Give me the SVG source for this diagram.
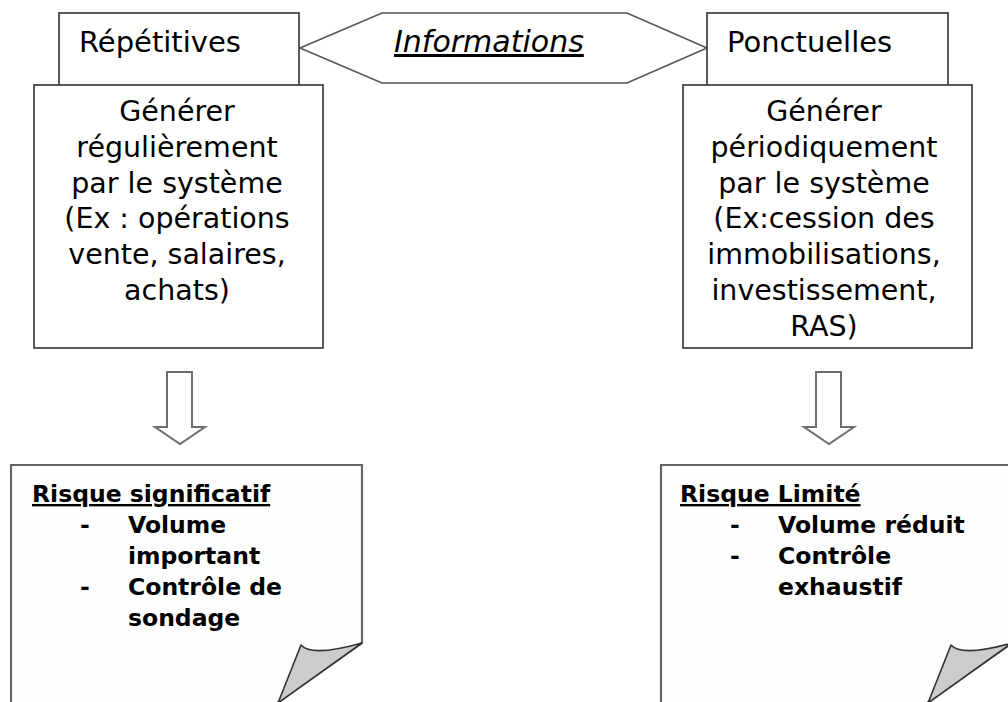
<svg xmlns="http://www.w3.org/2000/svg" width="1008" height="702" viewBox="0 0 1008 702">
<style>
  .box { fill: #ffffff; stroke: #333333; stroke-width: 1.6; }
  .hex { fill: #ffffff; stroke: #555555; stroke-width: 1.6; }
  .note { fill: #fefefe; stroke: #666666; stroke-width: 2.2; }
  .fold { fill: #cccccc; stroke: #333333; stroke-width: 1.6; stroke-linejoin: round; }
  .arrow { fill: #ffffff; stroke: #6e6e6e; stroke-width: 2; stroke-linejoin: miter; }
  .hdr { font-family: "DejaVu Sans", Verdana, sans-serif; font-size: 29px; fill: #000; }
  .body { font-family: "DejaVu Sans", Verdana, sans-serif; font-size: 28.5px; fill: #000; text-anchor: middle; }
  .info { font-family: "DejaVu Sans", Verdana, sans-serif; font-size: 30px; font-style: italic; text-decoration: underline; fill: #000; }
  .nt { font-family: "DejaVu Sans", Verdana, sans-serif; font-size: 23.5px; font-weight: bold; fill: #000; }
  .u { text-decoration: underline; }
</style>
<rect x="0" y="0" width="1008" height="702" fill="#ffffff"/>

<g id="node-informations">
  <polygon class="hex" points="300,48 382,13 627,13 707,48 627,83 382,83"/>
  <text class="info" x="394" y="52">Informations</text>
</g>

<g id="node-repetitives">
  <rect class="box" x="59" y="13" width="240" height="74"/>
  <text class="hdr" x="79" y="52">Répétitives</text>
</g>

<g id="node-ponctuelles">
  <rect class="box" x="707" y="13" width="241" height="74"/>
  <text class="hdr" x="727" y="52">Ponctuelles</text>
</g>

<g id="node-generer-regulierement">
  <rect class="box" x="34" y="85" width="289" height="263"/>
  <text class="body" x="177" y="121">Générer</text>
  <text class="body" x="177" y="156.8">régulièrement</text>
  <text class="body" x="177" y="192.6">par le système</text>
  <text class="body" x="177" y="228.4">(Ex : opérations</text>
  <text class="body" x="177" y="264.2">vente, salaires,</text>
  <text class="body" x="177" y="300">achats)</text>
</g>

<g id="node-generer-periodiquement">
  <rect class="box" x="683" y="85" width="289" height="263"/>
  <text class="body" x="824" y="121">Générer</text>
  <text class="body" x="824" y="156.8">périodiquement</text>
  <text class="body" x="824" y="192.6">par le système</text>
  <text class="body" x="824" y="228.4">(Ex:cession des</text>
  <text class="body" x="824" y="264.2">immobilisations,</text>
  <text class="body" x="824" y="300">investissement,</text>
  <text class="body" x="824" y="335.8">RAS)</text>
</g>

<g id="node-risque-significatif">
  <path class="note" d="M11,712 L11,465 L362,465 L362,643 L267,710 Z"/>
  <path class="fold" d="M301,645 C308,653 330,652 362,643 L278,703 Z"/>
  <text class="nt u" x="32" y="502">Risque significatif</text>
  <text class="nt" x="80" y="533">-</text>
  <text class="nt" x="128" y="533">Volume</text>
  <text class="nt" x="128" y="564">important</text>
  <text class="nt" x="80" y="595">-</text>
  <text class="nt" x="128" y="595">Contrôle de</text>
  <text class="nt" x="128" y="626">sondage</text>
</g>

<g id="node-risque-limite">
  <path class="note" d="M661,712 L661,465 L1012,465 L1012,643 L917,710 Z"/>
  <path class="fold" d="M951,645 C958,653 980,652 1012,643 L928,703 Z"/>
  <text class="nt u" x="680" y="502">Risque Limité</text>
  <text class="nt" x="730" y="533">-</text>
  <text class="nt" x="778" y="533">Volume réduit</text>
  <text class="nt" x="730" y="564">-</text>
  <text class="nt" x="778" y="564">Contrôle</text>
  <text class="nt" x="778" y="595">exhaustif</text>
</g>

<g id="connectors">
  <polygon class="arrow" points="167,372 192,372 192,427 205,427 180,444 155,427 167,427"/>
  <polygon class="arrow" points="816,372 841,372 841,427 854,427 829,444 804,427 816,427"/>
</g>
</svg>
